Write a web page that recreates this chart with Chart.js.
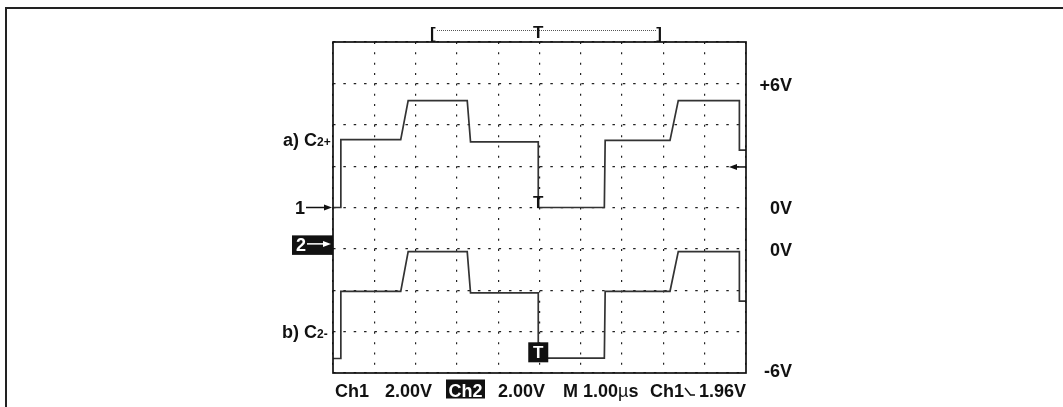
<!DOCTYPE html>
<html>
<head>
<meta charset="utf-8">
<script src="https://cdn.jsdelivr.net/npm/chart.js@4.4.1/dist/chart.umd.min.js"></script>
<style>
    html, body { margin: 0; padding: 0; background: #fff; }
    #wrap { width: 1063px; height: 407px; position: relative; }
</style>
</head>
<body>
<div id="wrap"><canvas id="scopeChart" width="1063" height="407"></canvas></div>
<script>
// Time base 1.00us/div, 10 divisions across the screen
const timeMin = 0;
const timeMax = 10;
// Corner times of both traces (us)
const edgeTimes = [0, 0.19, 0.19, 1.64, 1.82, 3.25, 3.33, 4.97, 4.97, 6.57, 6.59, 8.16, 8.36, 9.84, 9.84, 10];
// a) C2+ on Ch1, 2.00V/div
const ch1Volts = [0, 0, 3.28, 3.28, 5.17, 5.17, 3.17, 3.17, 0, 0, 3.24, 3.24, 5.17, 5.17, 2.77, 2.77];
// b) C2- on Ch2, 2.00V/div
const ch2Volts = [-5.30, -5.30, -2.05, -2.05, -0.13, -0.13, -2.13, -2.13, -5.28, -5.28, -2.05, -2.05, -0.13, -0.13, -2.53, -2.53];
// Vertical ranges: Ch1 ground on the centre line, Ch2 ground one division lower
const ch1Range = [-8, 8];
const ch2Range = [-6, 10];
const triggerTime = 4.97;
const triggerLevel = 1.96;

const FONT = '"Liberation Sans", Arial, Helvetica, sans-serif';

function toPoints(volts) {
    return edgeTimes.map((t, i) => ({ x: t, y: volts[i] }));
}

function label(ctx, text, x, yc, size, align, color, weight) {
    ctx.font = (weight || 'bold') + ' ' + size + 'px ' + FONT;
    ctx.textAlign = align || 'left';
    ctx.textBaseline = 'alphabetic';
    ctx.fillStyle = color || '#111';
    ctx.fillText(text, x, yc + 0.358 * size);
    return ctx.measureText(text).width;
}

function arrow(ctx, x1, x2, y, color) {
    // horizontal arrow, head at x2
    const dir = x2 > x1 ? 1 : -1;
    ctx.strokeStyle = color;
    ctx.fillStyle = color;
    ctx.lineWidth = 1.5;
    ctx.beginPath();
    ctx.moveTo(x1, y);
    ctx.lineTo(x2 - dir * 6, y);
    ctx.stroke();
    ctx.beginPath();
    ctx.moveTo(x2, y);
    ctx.lineTo(x2 - dir * 8, y - 3);
    ctx.lineTo(x2 - dir * 8, y + 3);
    ctx.closePath();
    ctx.fill();
}

const scopeOverlay = {
    id: 'scopeOverlay',
    afterDraw(chart) {
        const ctx = chart.ctx;
        const area = chart.chartArea;
        const xs = chart.scales.x;
        const y1 = chart.scales.y;
        const y2 = chart.scales.y2;
        ctx.save();

        // outer frame, only top and left edges fall inside the picture
        ctx.strokeStyle = '#222';
        ctx.lineWidth = 2;
        ctx.beginPath();
        ctx.moveTo(6, 407);
        ctx.lineTo(6, 8);
        ctx.lineTo(1063, 8);
        ctx.stroke();

        // graticule box
        ctx.strokeStyle = '#111';
        ctx.lineWidth = 1.7;
        ctx.strokeRect(area.left, area.top, area.right - area.left, area.bottom - area.top);

        // record window bracket on top
        ctx.strokeStyle = '#555';
        ctx.lineWidth = 1;
        ctx.setLineDash([1, 1]);
        ctx.beginPath();
        ctx.moveTo(437, 30.5);
        ctx.lineTo(656, 30.5);
        ctx.stroke();
        ctx.setLineDash([]);
        label(ctx, '[', 430, 32.5, 17, 'left');
        label(ctx, ']', 662, 32.5, 17, 'right');
        label(ctx, 'T', xs.getPixelForValue(triggerTime), 32, 17, 'center');

        // left side labels
        const c1 = y1.getPixelForValue(0);
        const c2 = y2.getPixelForValue(0);
        let w = label(ctx, 'a) C', 283, y1.getPixelForValue(3.28), 18, 'left');
        label(ctx, '2+', 283 + w, y1.getPixelForValue(3.28) + 2, 12, 'left');
        w = label(ctx, 'b) C', 282, y2.getPixelForValue(-4), 18, 'left');
        label(ctx, '2-', 282 + w, y2.getPixelForValue(-4) + 2, 12, 'left');

        label(ctx, '1', 295, c1, 18, 'left');
        arrow(ctx, 306, area.left - 1, c1, '#111');

        ctx.fillStyle = '#111';
        ctx.fillRect(292, c2 - 13.5, area.left - 292, 19.5);
        label(ctx, '2', 296, c2 - 4, 18, 'left', '#fff');
        arrow(ctx, 307, area.left - 2, c2 - 5, '#fff');

        // right side labels
        label(ctx, '+6V', 792, y1.getPixelForValue(6) + 1, 18, 'right');
        label(ctx, '0V', 792, c1, 18, 'right');
        label(ctx, '0V', 792, c2 + 1, 18, 'right');
        label(ctx, '-6V', 792, y2.getPixelForValue(-6) - 2, 18, 'right');

        // trigger level arrow for Ch1
        arrow(ctx, area.right, area.right - 17, y1.getPixelForValue(triggerLevel), '#111');

        // trigger markers
        const tx = xs.getPixelForValue(triggerTime);
        label(ctx, 'T', tx, c1 - 5.5, 17, 'center');
        const tb = y2.getPixelForValue(-5);
        ctx.fillStyle = '#111';
        ctx.fillRect(tx - 10, tb - 10, 20, 20);
        label(ctx, 'T', tx, tb, 17, 'center', '#fff');

        // bottom status line
        const by = 390.5;
        label(ctx, 'Ch1', 335, by, 18, 'left');
        label(ctx, '2.00V', 385, by, 18, 'left');
        ctx.fillStyle = '#111';
        ctx.fillRect(446, 379.5, 39, 19);
        label(ctx, 'Ch2', 465.5, by, 18, 'center', '#fff');
        label(ctx, '2.00V', 498, by, 18, 'left');
        let bx = 563;
        bx += label(ctx, 'M 1.00', bx, by, 18, 'left');
        bx += label(ctx, '\u00b5', bx, by, 18, 'left', '#111', 'normal');
        label(ctx, 's', bx, by, 18, 'left');
        bx = 650;
        bx += label(ctx, 'Ch1', bx, by, 18, 'left');
        // falling edge symbol
        ctx.strokeStyle = '#111';
        ctx.lineWidth = 1.5;
        ctx.beginPath();
        ctx.moveTo(bx + 1, 388);
        ctx.lineTo(bx + 6.5, 395);
        ctx.lineTo(bx + 11, 395);
        ctx.stroke();
        label(ctx, '1.96V', 746, by, 18, 'right');

        ctx.restore();
    }
};

const gridColor = '#222';
const divPx = 10.35; // quarter division dot spacing

new Chart(document.getElementById('scopeChart'), {
    type: 'line',
    data: {
        datasets: [
            {
                label: 'C2+',
                data: toPoints(ch1Volts),
                yAxisID: 'y',
                borderColor: '#333',
                borderWidth: 1.7,
                pointRadius: 0,
                tension: 0,
                fill: false
            },
            {
                label: 'C2-',
                data: toPoints(ch2Volts),
                yAxisID: 'y2',
                borderColor: '#333',
                borderWidth: 1.7,
                pointRadius: 0,
                tension: 0,
                fill: false
            }
        ]
    },
    options: {
        responsive: false,
        animation: false,
        events: [],
        layout: {
            padding: { left: 333, right: 317, top: 42, bottom: 34 }
        },
        plugins: {
            legend: { display: false },
            tooltip: { enabled: false }
        },
        scales: {
            x: {
                type: 'linear',
                min: timeMin,
                max: timeMax,
                ticks: { display: false, stepSize: 1 },
                grid: { color: gridColor, lineWidth: 1.2, drawTicks: false },
                border: { display: false, dash: [2, divPx - 2] }
            },
            y: {
                type: 'linear',
                min: ch1Range[0],
                max: ch1Range[1],
                ticks: { display: false, stepSize: 2 },
                grid: { color: gridColor, lineWidth: 1.2, drawTicks: false },
                border: { display: false, dash: [2.5, divPx - 2.5] }
            },
            y2: {
                type: 'linear',
                display: false,
                min: ch2Range[0],
                max: ch2Range[1]
            }
        }
    },
    plugins: [scopeOverlay]
});
</script>
</body>
</html>
